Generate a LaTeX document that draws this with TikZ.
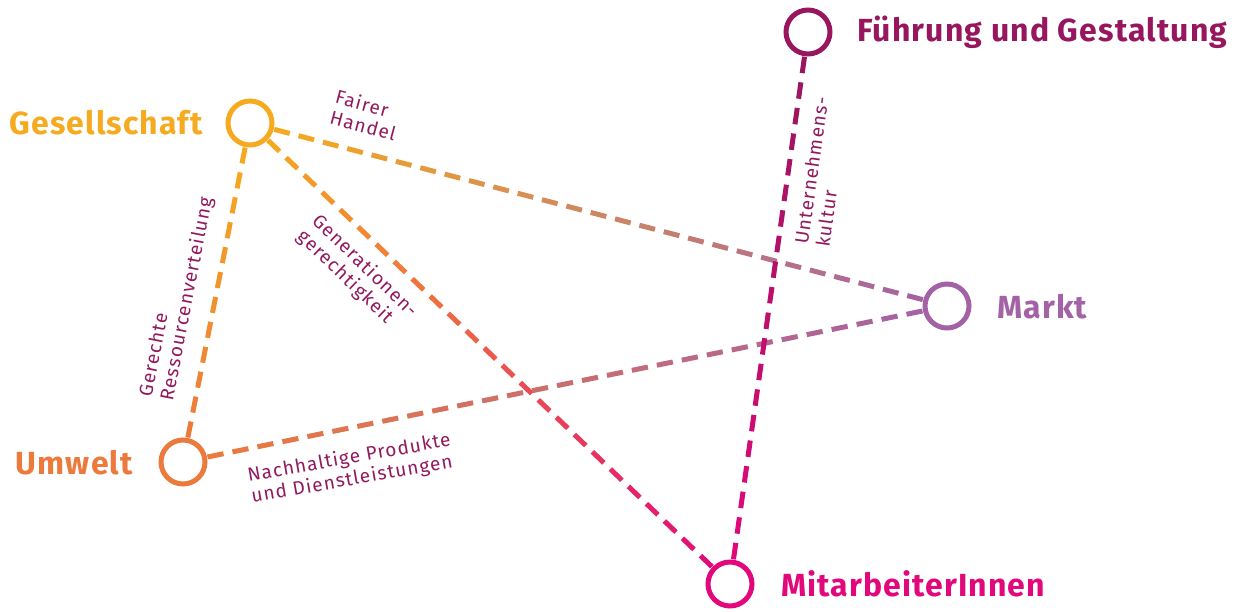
\documentclass[tikz,border=0pt]{standalone}
\usepackage{fontspec}
\setmainfont{Fira Sans}
\usetikzlibrary{calc}
\definecolor{cges}{HTML}{F6AA1F}
\definecolor{cumw}{HTML}{EC7A3C}
\definecolor{cfuh}{HTML}{97175F}
\definecolor{cmar}{HTML}{A462A6}
\definecolor{cmit}{HTML}{E2077B}
\definecolor{ctxt}{HTML}{93195F}
\tikzset{
  ring/.style={circle,draw=#1,line width=5pt,minimum size=44pt,inner sep=0pt},
  bigtxt/.style={text=#1,font=\fontsize{32}{34}\selectfont\bfseries\addfontfeature{LetterSpace=3.5},inner sep=0pt},
  smalltxt/.style={text=ctxt,font=\fontsize{19}{21.5}\selectfont\addfontfeature{LetterSpace=6},align=left,inner sep=0pt},
  seg/.style={line width=5pt,line cap=butt}
}
\newcommand\gradline[5]{%
  \coordinate (s) at ($(#1.center)!25pt!(#2.center)$);
  \coordinate (e) at ($(#2.center)!25pt!(#1.center)$);
  \foreach \i in {1,...,#5}{%
    \pgfmathsetmacro\ta{(\i-1)/(#5-0.36)}%
    \pgfmathsetmacro\tb{(\i-0.36)/(#5-0.36)}%
    \pgfmathtruncatemacro\p{100*(\i-0.68)/(#5-0.36)}%
    \draw[seg,draw=#4!\p!#3] ($(s)!\ta!(e)$) -- ($(s)!\tb!(e)$);
  }%
}
\begin{document}
\begin{tikzpicture}[x=1pt,y=-1pt]
\useasboundingbox (0,0) rectangle (1239,612);
\node[ring=cges] (ges) at (250,123) {};
\node[ring=cfuh] (fuh) at (808,32) {};
\node[ring=cmar] (mar) at (947,306) {};
\node[ring=cumw] (umw) at (183,462) {};
\node[ring=cmit] (mit) at (730,584) {};

\gradline{ges}{mar}{cges}{cmar}{27}
\gradline{ges}{umw}{cges}{cumw}{12}
\gradline{ges}{mit}{cges}{cmit}{25}
\gradline{umw}{mar}{cumw}{cmar}{29}
\gradline{fuh}{mit}{cfuh}{cmit}{20}

\node[bigtxt=cges,anchor=east] (lges) at (203,123) {Gesellschaft};
\node[bigtxt=cumw,anchor=east] (lumw) at (133,463) {Umwelt};
\node[bigtxt=cfuh,anchor=west] (lfuh) at (857,32) {Führung und Gestaltung};
\node[bigtxt=cmar,anchor=west] (lmar) at (997,307) {Markt};
\node[bigtxt=cmit,anchor=west] (lmit) at (781,584) {MitarbeiterInnen};

\node[smalltxt,rotate=-15] (tfair) at (366,115) {Fairer\\Handel};
\node[smalltxt,rotate=79] (tger) at (177,297) {Gerechte\\Ressourcenverteilung};
\node[smalltxt,rotate=-44] (tgen) at (357,274) {Generationen-\\gerechtigkeit};
\node[smalltxt,rotate=82] (tunt) at (822,172) {Unternehmens-\\kultur};
\node[smalltxt,rotate=10] (tnach) at (351,469) {Nachhaltige Produkte\\und Dienstleistungen};
\end{tikzpicture}
\end{document}
